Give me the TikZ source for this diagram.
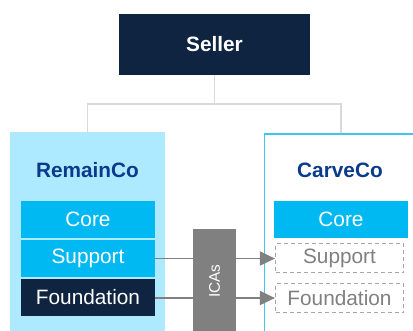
\documentclass[tikz,border=0pt]{standalone}
\usepackage{fontspec}
\setmainfont{Liberation Sans}
\usetikzlibrary{arrows.meta}
\definecolor{navy}{HTML}{0F2440}
\definecolor{paleblue}{HTML}{ADE9FF}
\definecolor{brightblue}{HTML}{00B9F2}
\definecolor{labelblue}{HTML}{0A3A8C}
\definecolor{edgeblue}{HTML}{3CC6F0}
\definecolor{midgray}{HTML}{808080}
\definecolor{lightgray}{HTML}{D9D9D9}
\definecolor{dashgray}{HTML}{A6A6A6}
\begin{document}
\begin{tikzpicture}[x=1pt,y=-1pt]
        \tikzstyle{every node}+=[inner sep=0pt, font=\fontsize{20.8}{24}\selectfont]
        \tikzstyle{tier}=[minimum width=134pt, minimum height=37pt, text=white]
        \tikzstyle{ghost}=[draw=dashgray, dash pattern=on 4pt off 3pt, line width=1.2pt, text=midgray, minimum width=128pt, minimum height=29pt]
        \tikzstyle{title}=[text=labelblue, font=\fontsize{20.8}{24}\selectfont\bfseries]
        \tikzstyle{flow}=[draw=midgray, line width=1.9pt, -{Triangle[length=15pt,width=14pt]}]
        \useasboundingbox (0,0) rectangle (413,330);
        % owner on top
        \node (seller) [fill=navy, text=white, font=\fontsize{20.8}{24}\selectfont\bfseries, minimum width=191pt, minimum height=61pt] at (214.5,44.5) {Seller};
        % the two companies
        \node (remainco) [fill=paleblue, minimum width=155pt, minimum height=200pt, anchor=north] at (87.5,132) {};
        \node (carveco) [draw=edgeblue, line width=1.6pt, minimum width=153pt, minimum height=200pt, anchor=north] at (341,133) {};
        \node (remaintitle) [title] at (87.5,170) {RemainCo};
        \node (carvetitle) [title] at (340,170) {CarveCo};
        % RemainCo layers
        \node (core1) [tier, fill=brightblue] at (88,219) {Core};
        \node (support1) [tier, fill=brightblue] at (88,258.5) {Support};
        \node (foundation1) [tier, fill=navy] at (88,297) {Foundation};
        % CarveCo layers
        \node (core2) [tier, fill=brightblue] at (341,219) {Core};
        \node (support2) [ghost] at (339.5,258) {Support};
        \node (foundation2) [ghost] at (339.5,298) {Foundation};
        % tree lines
        \coordinate (split) at (214.5,104);
        \draw [lightgray, line width=1.5pt] (seller.south) -- (split);
        \draw [lightgray, line width=1.5pt] (remainco.north) |- (split) -| (carveco.north);
        % services crossing over
        \draw [flow] (support1.east) -- (support1.east -| support2.west);
        \draw [flow] (foundation1.east |- foundation2.west) -- (foundation2.west);
        \node (icas) [fill=midgray, text=white, rotate=90, minimum width=104pt, minimum height=43pt, font=\fontsize{15.4}{18}\selectfont] at (214.5,281) {ICAs};
    \end{tikzpicture}
\end{document}
